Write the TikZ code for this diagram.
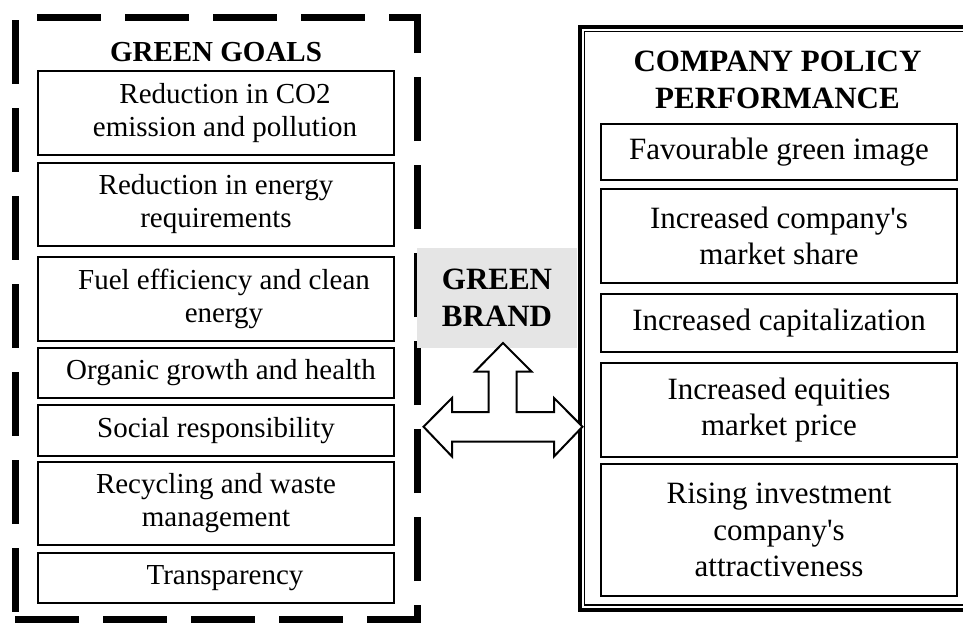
\documentclass[tikz,border=0pt]{standalone}
\usepackage{fontspec}
\setmainfont{Liberation Serif}
\tikzset{
  goalbox/.style={draw, line width=1.2pt, minimum width=356pt, inner sep=0pt, align=center, font=\fontsize{29}{33}\selectfont},
  policybox/.style={draw, line width=1.2pt, minimum width=356pt, inner sep=0pt, align=center, font=\fontsize{31}{36.7}\selectfont},
  headline/.style={align=center, inner sep=0pt, font=\bfseries\fontsize{31}{37}\selectfont},
}
\newcommand{\nudged}[2]{\hspace*{#1}\begin{tabular}{@{}c@{}}#2\end{tabular}}
\begin{document}
\begin{tikzpicture}[x=1pt, y=-1pt]
\clip (0,0) rectangle (963,622);
% green goals, dashed frame
\draw[line width=7pt, dash pattern=on 64pt off 24pt] (15,619) -- (417,619) -- (417,17.5) -- (15,17.5) -- cycle;
\node[headline, font=\bfseries\fontsize{29}{33}\selectfont] (goals) at (216,52) {GREEN GOALS};
\node[goalbox, minimum height=84pt] (goal1) at (216,113) {\nudged{18pt}{Reduction in CO2\\emission and pollution}};
\node[goalbox, minimum height=83pt] (goal2) at (216,204.5) {Reduction in energy\\requirements};
\node[goalbox, minimum height=84pt] (goal3) at (216,299) {\nudged{16pt}{Fuel efficiency and clean\\energy}};
\node[goalbox, minimum height=50pt] (goal4) at (216,373) {\nudged{10pt}{Organic growth and health}};
\node[goalbox, minimum height=51pt] (goal5) at (216,430.5) {Social responsibility};
\node[goalbox, minimum height=83pt] (goal6) at (216,503.5) {Recycling and waste\\management};
\node[goalbox, minimum height=50pt] (goal7) at (216,578) {\nudged{18pt}{Transparency}};
% company policy, double frame
\draw[line width=4pt] (580,27) rectangle (990,609.5);
\draw[line width=1.3pt] (584.5,31.5) rectangle (985,605);
\node[headline] (policy) at (777.5,80) {COMPANY POLICY\\PERFORMANCE};
\node[policybox, minimum height=56pt] (perf1) at (779,152) {Favourable green image};
\node[policybox, minimum height=94pt] (perf2) at (779,236) {Increased company\textquotesingle s\\market share};
\node[policybox, minimum height=58pt] (perf3) at (779,323) {Increased capitalization};
\node[policybox, minimum height=94pt] (perf4) at (779,410) {Increased equities\\market price};
\node[policybox, minimum height=132pt] (perf5) at (779,530) {Rising investment\\company\textquotesingle s\\attractiveness};
% brand in the middle
\node[headline, fill=gray!20, minimum width=160pt, minimum height=100pt] (brand) at (497,297.5) {GREEN\\BRAND};
\draw[line width=2pt, fill=white, line join=miter] (503,343) -- (531.5,371.5) -- (516.5,371.5) -- (516.5,412) -- (554,412) -- (554,398) -- (582.5,426.7) -- (554,456.5) -- (554,441.5) -- (452,441.5) -- (452,456.5) -- (423.5,426.7) -- (452,398) -- (452,412) -- (488.5,412) -- (488.5,371.5) -- (475,371.5) -- cycle;
\end{tikzpicture}
\end{document}
